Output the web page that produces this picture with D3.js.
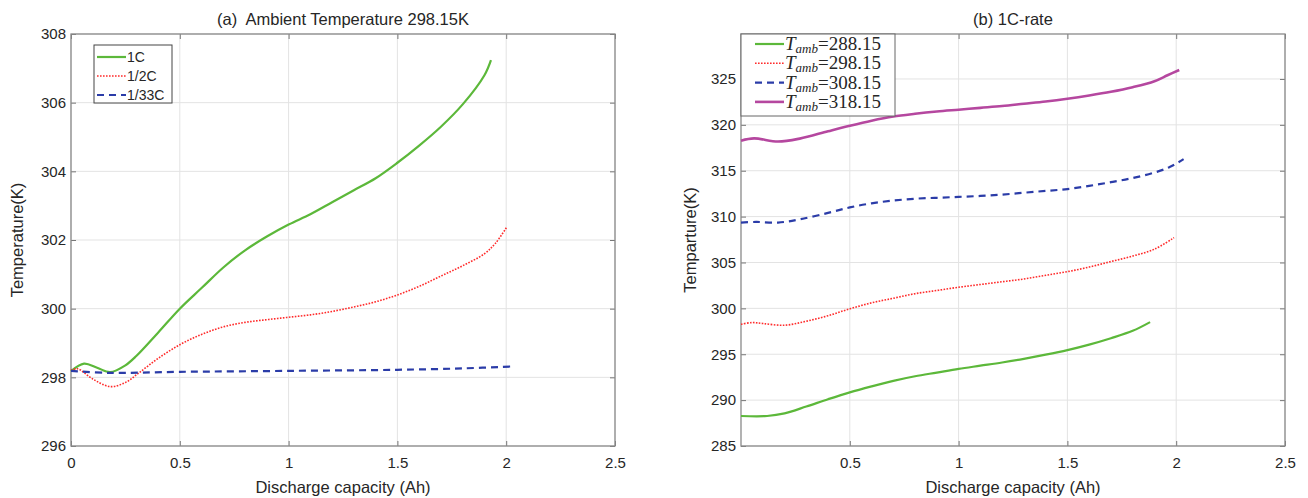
<!DOCTYPE html>
<html>
<head>
<meta charset="utf-8">
<script src="https://cdn.jsdelivr.net/npm/d3@7"></script>
<style>
  html, body { margin: 0; padding: 0; background: #fff; }
  svg { display: block; }
  text { font-family: "Liberation Sans", Arial, sans-serif; fill: #262626; }
</style>
</head>
<body>
<svg id="chart" width="1308" height="498"></svg>
<script>
// ---------- Data: panel (a) Ambient Temperature 298.15K ----------
const xTicksA = [0, 0.5, 1, 1.5, 2, 2.5];
const yTicksA = [296, 298, 300, 302, 304, 306, 308];
const seriesNamesA = ["1C", "1/2C", "1/33C"];
const a1C_x = [0, 0.06, 0.12, 0.18, 0.25, 0.3, 0.4, 0.5, 0.6, 0.7, 0.8, 0.9, 1.0, 1.1, 1.2, 1.3, 1.4, 1.5, 1.6, 1.7, 1.8, 1.9, 1.93];
const a1C_y = [298.18, 298.40, 298.28, 298.15, 298.35, 298.62, 299.3, 300.0, 300.6, 301.2, 301.7, 302.1, 302.45, 302.75, 303.1, 303.45, 303.8, 304.25, 304.75, 305.3, 305.95, 306.8, 307.24];
const aHalf_x = [0, 0.03, 0.1, 0.18, 0.25, 0.31, 0.4, 0.5, 0.6, 0.7, 0.8, 0.9, 1.0, 1.1, 1.2, 1.3, 1.4, 1.5, 1.6, 1.7, 1.8, 1.9, 1.95, 2.003];
const aHalf_y = [298.2, 298.25, 297.95, 297.73, 297.85, 298.12, 298.55, 298.95, 299.25, 299.47, 299.6, 299.68, 299.75, 299.82, 299.92, 300.05, 300.2, 300.4, 300.65, 300.95, 301.25, 301.6, 301.9, 302.38];
const a33_x = [0, 0.17, 0.5, 1.03, 1.5, 1.8, 2.036];
const a33_y = [298.19, 298.13, 298.16, 298.19, 298.22, 298.26, 298.32];

// ---------- Data: panel (b) 1C-rate ----------
const xTicksB = [0.5, 1, 1.5, 2, 2.5];
const yTicksB = [285, 290, 295, 300, 305, 310, 315, 320, 325];
const ambLabels = ["288.15", "298.15", "308.15", "318.15"];
const b288_x = [0, 0.12, 0.2, 0.3, 0.4, 0.5, 0.6, 0.7, 0.8, 0.9, 1.0, 1.1, 1.2, 1.3, 1.4, 1.5, 1.6, 1.7, 1.8, 1.88];
const b288_y = [288.27, 288.27, 288.55, 289.3, 290.1, 290.85, 291.5, 292.1, 292.6, 293.0, 293.4, 293.75, 294.1, 294.5, 294.95, 295.45, 296.05, 296.75, 297.55, 298.5];
const b298_x = [0, 0.05, 0.1, 0.2, 0.3, 0.4, 0.5, 0.6, 0.7, 0.8, 0.9, 1.0, 1.1, 1.2, 1.3, 1.4, 1.5, 1.6, 1.7, 1.8, 1.9, 1.99];
const b298_y = [298.27, 298.45, 298.35, 298.16, 298.6, 299.2, 299.95, 300.6, 301.1, 301.6, 301.95, 302.3, 302.6, 302.9, 303.2, 303.6, 304.0, 304.5, 305.1, 305.7, 306.45, 307.7];
const b308_x = [0, 0.07, 0.17, 0.27, 0.4, 0.5, 0.6, 0.7, 0.8, 0.9, 1.0, 1.1, 1.2, 1.3, 1.4, 1.5, 1.6, 1.7, 1.8, 1.9, 1.97, 2.034];
const b308_y = [309.35, 309.42, 309.35, 309.7, 310.4, 311.0, 311.45, 311.75, 311.95, 312.05, 312.15, 312.25, 312.4, 312.6, 312.8, 313.0, 313.35, 313.75, 314.2, 314.8, 315.4, 316.26];
const b318_x = [0, 0.06, 0.17, 0.27, 0.4, 0.5, 0.6, 0.7, 0.8, 0.9, 1.0, 1.1, 1.2, 1.3, 1.4, 1.5, 1.6, 1.7, 1.8, 1.9, 1.96, 2.014];
const b318_y = [318.27, 318.52, 318.18, 318.5, 319.3, 319.9, 320.45, 320.9, 321.2, 321.45, 321.65, 321.85, 322.05, 322.3, 322.55, 322.85, 323.2, 323.6, 324.1, 324.75, 325.4, 325.98];

// ---------- Styles ----------
const COLORS = { green: "#5cb83a", red: "#ff2b2b", blue: "#2b3ca8", magenta: "#b5479f" };
const svg = d3.select("#chart");

function zip(xs, ys) { return xs.map((x, i) => ({ x: x, y: ys[i] })); }

function panel(opts) {
  const g = svg.append("g");
  const x = d3.scaleLinear().domain(opts.xDomain).range([opts.left, opts.right]);
  const y = d3.scaleLinear().domain(opts.yDomain).range([opts.bottom, opts.top]);

  // grid
  g.append("g").selectAll("line").data(opts.xGrid).join("line")
    .attr("x1", d => x(d)).attr("x2", d => x(d))
    .attr("y1", opts.top).attr("y2", opts.bottom)
    .attr("stroke", "#e3e3e3").attr("stroke-width", 1);
  g.append("g").selectAll("line").data(opts.yTicks).join("line")
    .attr("x1", opts.left).attr("x2", opts.right)
    .attr("y1", d => y(d)).attr("y2", d => y(d))
    .attr("stroke", "#e3e3e3").attr("stroke-width", 1);

  // axes (ticks inside)
  const xAxis = d3.axisBottom(x).tickValues(opts.xTicks).tickSize(-5).tickSizeOuter(0)
    .tickFormat(d => d3.format("~g")(d));
  const gx = g.append("g").attr("transform", `translate(0,${opts.bottom})`).call(xAxis);
  gx.select(".domain").remove();
  gx.selectAll(".tick line").attr("stroke", "#777");
  gx.selectAll(".tick text").attr("dy", "1.05em").attr("y", 6)
    .style("font-size", "15px").style("fill", "#262626").style("font-family", "Liberation Sans, Arial, sans-serif");

  const gxTop = g.append("g").attr("transform", `translate(0,${opts.top})`)
    .call(d3.axisTop(x).tickValues(opts.xTicks).tickSize(-5).tickSizeOuter(0).tickFormat(""));
  gxTop.select(".domain").remove();
  gxTop.selectAll(".tick line").attr("stroke", "#777");

  const yAxis = d3.axisLeft(y).tickValues(opts.yTicks).tickSize(-5).tickSizeOuter(0);
  const gy = g.append("g").attr("transform", `translate(${opts.left},0)`).call(yAxis);
  gy.select(".domain").remove();
  gy.selectAll(".tick line").attr("stroke", "#777");
  gy.selectAll(".tick text").attr("x", -5)
    .style("font-size", "15px").style("fill", "#262626").style("font-family", "Liberation Sans, Arial, sans-serif");

  const gyR = g.append("g").attr("transform", `translate(${opts.right},0)`)
    .call(d3.axisRight(y).tickValues(opts.yTicks).tickSize(-5).tickSizeOuter(0).tickFormat(""));
  gyR.select(".domain").remove();
  gyR.selectAll(".tick line").attr("stroke", "#777");

  // box
  g.append("rect").attr("x", opts.left).attr("y", opts.top)
    .attr("width", opts.right - opts.left).attr("height", opts.bottom - opts.top)
    .attr("fill", "none").attr("stroke", "#8a8a8a").attr("stroke-width", 1.3);

  // lines
  const line = d3.line().x(d => x(d.x)).y(d => y(d.y)).curve(d3.curveCatmullRom.alpha(0.5));
  opts.series.forEach(s => {
    g.append("path").datum(s.data).attr("d", line)
      .attr("fill", "none").attr("stroke", s.color).attr("stroke-width", s.width)
      .attr("stroke-dasharray", s.dash || null).attr("stroke-linecap", "butt");
  });

  // title
  g.append("text").attr("x", (opts.left + opts.right) / 2).attr("y", 25)
    .attr("text-anchor", "middle").style("font-size", "16.5px").attr("xml:space", "preserve")
    .text(opts.title);
  // x label
  g.append("text").attr("x", (opts.left + opts.right) / 2).attr("y", 493)
    .attr("text-anchor", "middle").style("font-size", "16.5px").text("Discharge capacity (Ah)");
  // y label
  g.append("text").attr("transform", `translate(${opts.yLabelX},${(opts.top + opts.bottom) / 2}) rotate(-90)`)
    .attr("text-anchor", "middle").style("font-size", "16.5px").text(opts.yLabel);
  return { g, x, y };
}

// ---------- Panel (a) ----------
const pa = panel({
  left: 71, right: 615, top: 34, bottom: 446,
  xDomain: [0, 2.5], yDomain: [296, 308],
  xTicks: xTicksA, xGrid: xTicksA, yTicks: yTicksA,
  title: "(a)  Ambient Temperature 298.15K", yLabel: "Temperature(K)", yLabelX: 23,
  series: [
    { data: zip(a1C_x, a1C_y), color: COLORS.green, width: 2.2 },
    { data: zip(aHalf_x, aHalf_y), color: COLORS.red, width: 1.6, dash: "1.6,1.4" },
    { data: zip(a33_x, a33_y), color: COLORS.blue, width: 2.2, dash: "7,5" }
  ]
});

// legend (a)
(function () {
  const lg = pa.g.append("g");
  lg.append("rect").attr("x", 94).attr("y", 45).attr("width", 78).attr("height", 58)
    .attr("fill", "#fff").attr("stroke", "#444").attr("stroke-width", 1);
  const styles = [
    { color: COLORS.green, width: 2.2, dash: null },
    { color: COLORS.red, width: 1.6, dash: "1.6,1.4" },
    { color: COLORS.blue, width: 2.2, dash: "7,5" }
  ];
  seriesNamesA.forEach((name, i) => {
    const yy = 57 + i * 19;
    lg.append("line").attr("x1", 97).attr("x2", 126).attr("y1", yy).attr("y2", yy)
      .attr("stroke", styles[i].color).attr("stroke-width", styles[i].width)
      .attr("stroke-dasharray", styles[i].dash);
    lg.append("text").attr("x", 127).attr("y", yy + 5).style("font-size", "14px").text(name);
  });
})();

// ---------- Panel (b) ----------
const pb = panel({
  left: 741, right: 1285, top: 34, bottom: 446,
  xDomain: [0, 2.5], yDomain: [285, 329.9],
  xTicks: xTicksB, xGrid: xTicksB, yTicks: yTicksB,
  title: "(b) 1C-rate", yLabel: "Temparture(K)", yLabelX: 696,
  series: [
    { data: zip(b288_x, b288_y), color: COLORS.green, width: 2.2 },
    { data: zip(b298_x, b298_y), color: COLORS.red, width: 1.6, dash: "1.6,1.4" },
    { data: zip(b308_x, b308_y), color: COLORS.blue, width: 2.2, dash: "7,5" },
    { data: zip(b318_x, b318_y), color: COLORS.magenta, width: 2.6 }
  ]
});

// legend (b)
(function () {
  const lg = pb.g.append("g");
  lg.append("rect").attr("x", 741).attr("y", 34).attr("width", 154).attr("height", 82)
    .attr("fill", "#fff").attr("stroke", "#666").attr("stroke-width", 1);
  const styles = [
    { color: COLORS.green, width: 2.2, dash: null },
    { color: COLORS.red, width: 1.6, dash: "1.6,1.4" },
    { color: COLORS.blue, width: 2.2, dash: "7,5" },
    { color: COLORS.magenta, width: 2.6, dash: null }
  ];
  ambLabels.forEach((lab, i) => {
    const yy = 44 + i * 19.3;
    lg.append("line").attr("x1", 755).attr("x2", 784).attr("y1", yy).attr("y2", yy)
      .attr("stroke", styles[i].color).attr("stroke-width", styles[i].width)
      .attr("stroke-dasharray", styles[i].dash);
    const t = lg.append("text").attr("x", 785).attr("y", yy + 6)
      .style("font-family", "'Liberation Serif', 'DejaVu Serif', serif").style("font-size", "19px");
    t.append("tspan").style("font-style", "italic").text("T");
    t.append("tspan").style("font-style", "italic").style("font-size", "13px").attr("dy", 3).text("amb");
    t.append("tspan").attr("dy", -3).text("=" + lab);
  });
})();
</script>
</body>
</html>
